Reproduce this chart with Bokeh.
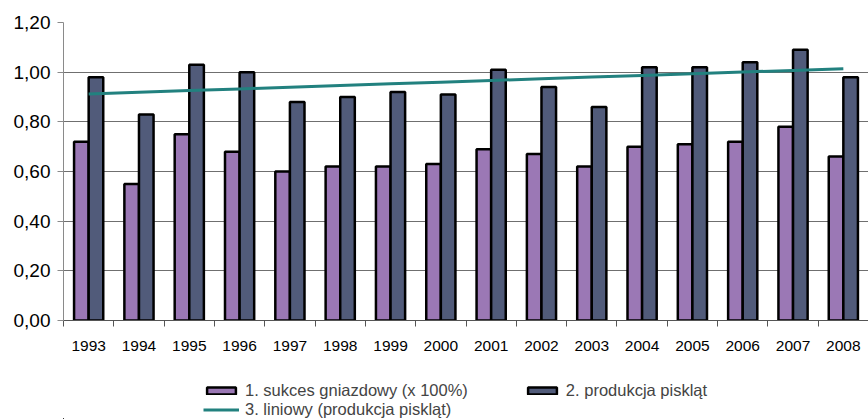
import numpy as np
from bokeh.plotting import figure
from bokeh.layouts import column
from bokeh.models import (ColumnDataSource, Range1d, FixedTicker, CustomJSTickFormatter,
                          Legend, LegendItem)
from bokeh.embed import file_html
from bokeh.resources import INLINE

# Breeding data per season
years = [1993, 1994, 1995, 1996, 1997, 1998, 1999, 2000,
         2001, 2002, 2003, 2004, 2005, 2006, 2007, 2008]
nest_success = [0.72, 0.55, 0.75, 0.68, 0.60, 0.62, 0.62, 0.63,
                0.69, 0.67, 0.62, 0.70, 0.71, 0.72, 0.78, 0.66]
chick_production = [0.98, 0.83, 1.03, 1.00, 0.88, 0.90, 0.92, 0.91,
                    1.01, 0.94, 0.86, 1.02, 1.02, 1.04, 1.09, 0.98]
y_ticks = [0.0, 0.2, 0.4, 0.6, 0.8, 1.0, 1.2]

label_1 = "1. sukces gniazdowy (x 100%)"
label_2 = "2. produkcja piskląt"
label_3 = "3. liniowy (produkcja piskląt)"

FONT = "Liberation Sans"
PURPLE = "#9B78B5"
SLATE = "#515B7A"
TEAL = "#22817F"
GRID = "#6f6f6f"
BAR_LINE = 2.5

n = len(years)
centers = np.arange(n) + 0.5
bar_w = 0.29

# least-squares trend of chick production
slope, intercept = np.polyfit(np.arange(n), chick_production, 1)
trend = intercept + slope * np.arange(n)

src = ColumnDataSource(dict(x1=centers - bar_w / 2, x2=centers + bar_w / 2,
                            s=nest_success, c=chick_production))

p = figure(width=868, height=358, output_backend="svg", toolbar_location=None,
           x_range=Range1d(0, n), y_range=Range1d(0, 1.2),
           min_border_left=63, min_border_right=0, min_border_top=22,
           min_border_bottom=38)
p.outline_line_color = None

p.vbar(x="x1", top="s", width=bar_w, source=src, fill_color=PURPLE,
       line_color="black", line_width=BAR_LINE)
p.vbar(x="x2", top="c", width=bar_w, source=src, fill_color=SLATE,
       line_color="black", line_width=BAR_LINE)
p.line(centers, trend, line_color=TEAL, line_width=3)

# grid
p.xgrid.visible = False
p.ygrid.ticker = FixedTicker(ticks=y_ticks)
p.ygrid.grid_line_color = GRID
p.ygrid.grid_line_width = 1

# y axis
ya = p.yaxis[0]
ya.ticker = FixedTicker(ticks=y_ticks)
ya.formatter = CustomJSTickFormatter(code="return tick.toFixed(2).replace('.', ',');")
ya.axis_line_color = "#8a8a8a"
ya.major_tick_line_color = "#8a8a8a"
ya.major_tick_in = 0
ya.major_tick_out = 6
ya.minor_tick_line_color = None
ya.major_label_standoff = 7
ya.major_label_text_font = FONT
ya.major_label_text_font_size = "19px"
ya.major_label_text_color = "black"

# x axis: year labels at category centres, ticks on the boundaries
xa = p.xaxis[0]
xa.ticker = FixedTicker(ticks=list(centers), minor_ticks=list(range(n + 1)))
xa.major_label_overrides = {float(c): str(y) for c, y in zip(centers, years)}
xa.major_tick_line_color = None
xa.major_tick_in = 0
xa.major_tick_out = 0
xa.minor_tick_line_color = "#555555"
xa.minor_tick_in = 0
xa.minor_tick_out = 6
xa.axis_line_color = "#555555"
xa.major_label_standoff = 14
xa.major_label_text_font = FONT
xa.major_label_text_font_size = "15.5px"
xa.major_label_text_color = "black"

# legend strip under the chart; its renderers only carry the series styles
# and sit outside the strip's visible range
lg = figure(width=868, height=61, output_backend="svg", toolbar_location=None,
            x_range=Range1d(0, 1), y_range=Range1d(0, 1),
            x_axis_location=None, y_axis_location=None,
            min_border_left=63, min_border_right=0, min_border_top=0, min_border_bottom=0)
lg.outline_line_color = None
lg.grid.visible = False
swatch = ColumnDataSource(dict(x=[-2.0, -1.8], y=[-2.0, -1.8]))
k1 = lg.vbar(x="x", top="y", bottom=-2.5, width=0.1, source=swatch, fill_color=PURPLE,
             line_color="black", line_width=BAR_LINE)
k2 = lg.vbar(x="x", top="y", bottom=-2.5, width=0.1, source=swatch, fill_color=SLATE,
             line_color="black", line_width=BAR_LINE)
k3 = lg.line(x="x", y="y", source=swatch, line_color=TEAL, line_width=3)

common = dict(border_line_color=None, background_fill_alpha=0, margin=0, padding=0,
              glyph_width=36, glyph_height=9, label_standoff=6,
              label_text_font=FONT, label_text_font_size="16.5px",
              label_height=17, spacing=56, orientation="horizontal")
leg_a = Legend(items=[LegendItem(label=label_1, renderers=[k1]),
                      LegendItem(label=label_2, renderers=[k2])],
               location=(140, 19), **common)
leg_b = Legend(items=[LegendItem(label=label_3, renderers=[k3])],
               location=(140, 0), **common)
lg.add_layout(leg_a)
lg.add_layout(leg_b)

open("out.html", "w").write(file_html(column(p, lg, spacing=0), INLINE))
